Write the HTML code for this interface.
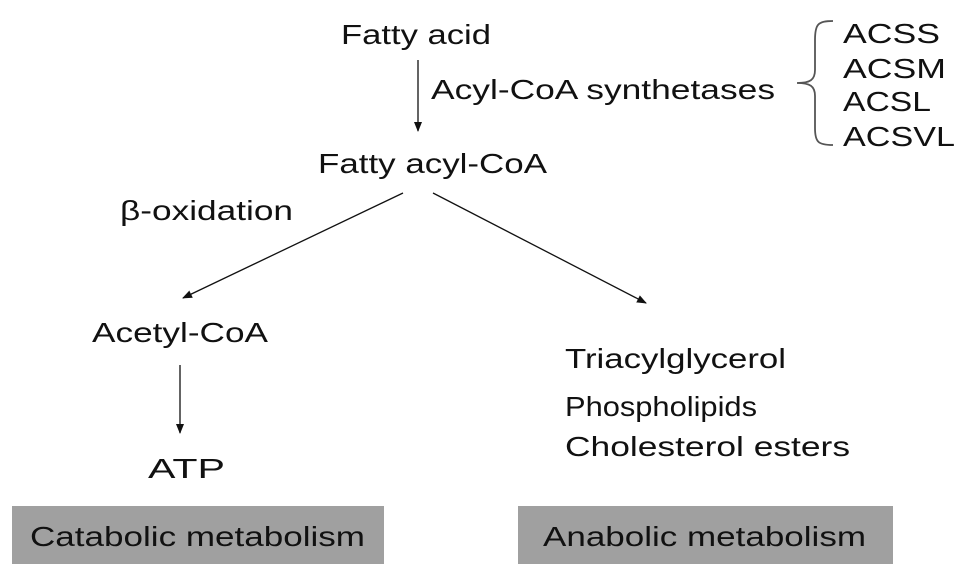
<!DOCTYPE html>
<html><head><style>body{margin:0;background:#fff}svg{display:block}</style></head>
<body>
<svg width="969" height="580" viewBox="0 0 969 580" xmlns="http://www.w3.org/2000/svg" font-family="Liberation Sans, sans-serif" font-size="28" fill="#111">
<defs><marker id="a" markerWidth="10" markerHeight="10" refX="9" refY="5" orient="auto" markerUnits="userSpaceOnUse"><path d="M0,1 L10,5 L0,9 z" fill="#111"/></marker></defs>
<text x="341" y="44" textLength="150" lengthAdjust="spacingAndGlyphs">Fatty acid</text>
<line x1="418" y1="60" x2="418" y2="131" stroke="#111" stroke-width="1.3" marker-end="url(#a)"/>
<text x="431" y="99" textLength="344" lengthAdjust="spacingAndGlyphs">Acyl-CoA synthetases</text>
<path d="M833,21 C818,21 815,24 815,40 L815,70 C815,80 810,83 797,83 C810,83 815,86 815,96 L815,128 C815,142 818,145 833,145" fill="none" stroke="#555" stroke-width="1.8"/>
<text x="843" y="43" textLength="97" lengthAdjust="spacingAndGlyphs">ACSS</text>
<text x="843" y="78" textLength="103" lengthAdjust="spacingAndGlyphs">ACSM</text>
<text x="843" y="111" textLength="88" lengthAdjust="spacingAndGlyphs">ACSL</text>
<text x="843" y="146" textLength="112" lengthAdjust="spacingAndGlyphs">ACSVL</text>
<text x="318" y="173" textLength="229" lengthAdjust="spacingAndGlyphs">Fatty acyl-CoA</text>
<text x="120" y="220" textLength="173" lengthAdjust="spacingAndGlyphs">β-oxidation</text>
<line x1="403" y1="193" x2="183" y2="298" stroke="#111" stroke-width="1.3" marker-end="url(#a)"/>
<line x1="433" y1="193" x2="646" y2="303" stroke="#111" stroke-width="1.3" marker-end="url(#a)"/>
<text x="92" y="342" textLength="176" lengthAdjust="spacingAndGlyphs">Acetyl-CoA</text>
<line x1="180" y1="365" x2="180" y2="433" stroke="#111" stroke-width="1.3" marker-end="url(#a)"/>
<text x="148" y="478" textLength="77" lengthAdjust="spacingAndGlyphs">ATP</text>
<text x="565" y="368" textLength="221" lengthAdjust="spacingAndGlyphs">Triacylglycerol</text>
<text x="565" y="416" textLength="192" lengthAdjust="spacingAndGlyphs">Phospholipids</text>
<text x="565" y="456" textLength="285" lengthAdjust="spacingAndGlyphs">Cholesterol esters</text>
<rect x="12" y="506" width="372" height="58" fill="#a0a0a0"/>
<rect x="518" y="506" width="375" height="58" fill="#a0a0a0"/>
<text x="30" y="546" textLength="335" lengthAdjust="spacingAndGlyphs">Catabolic metabolism</text>
<text x="543" y="546" textLength="323" lengthAdjust="spacingAndGlyphs">Anabolic metabolism</text>
</svg>
</body></html>
